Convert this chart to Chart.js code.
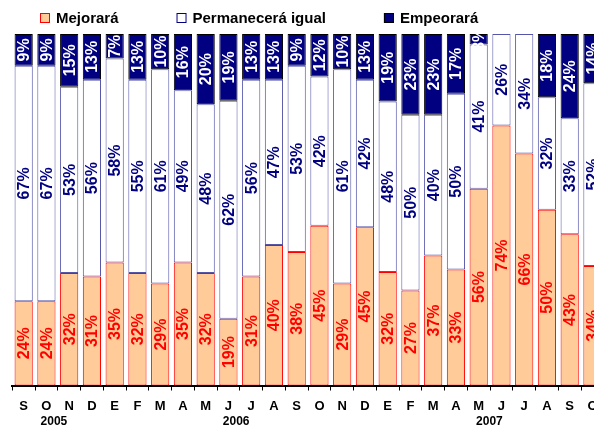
<!DOCTYPE html>
<html>
<head>
<meta charset="utf-8">
<script src="https://cdn.jsdelivr.net/npm/chart.js@4.4.0/dist/chart.umd.min.js"></script>
<style>
  html, body { margin: 0; padding: 0; background: #fff; overflow: hidden; }
  #wrap { width: 594px; height: 425px; overflow: hidden; }
</style>
</head>
<body>
<div id="wrap"><canvas id="expectativas" width="606" height="425"></canvas></div>
<script>
// meses sep 2005 - oct 2007
var meses = ['S','O','N','D','E','F','M','A','M','J','J','A','S','O','N','D','E','F','M','A','M','J','J','A','S','O']
var mejorara  = [24,24,32,31,35,32,29,35,32,19,31,40,38,45,29,45,32,27,37,33,56,74,66,50,43,34]
var igual     = [67,67,53,56,58,55,61,49,48,62,56,47,53,42,61,42,48,50,40,50,41,26,34,32,33,52]
var empeorara = [ 9, 9,15,13, 7,13,10,16,20,19,13,13, 9,12,10,13,19,23,23,17, 3, 0, 0,18,24,14]
var anios = ['2005','2006','2007']
var anioEnMes = [1.33, 9.34, 20.47]

var FONT = "'Liberation Sans', Arial, sans-serif"
Chart.defaults.font.family = FONT

// 100% apilado: cada barra se lleva a 100
function share(arr) {
  return arr.map(function(v, i) {
    return v * 100 / (mejorara[i] + igual[i] + empeorara[i])
  })
}

var etiquetas = {
  id: 'etiquetas',
  afterDatasetsDraw: function(chart) {
    var ctx = chart.ctx
    var area = chart.chartArea
    ctx.save()
    ctx.beginPath()
    ctx.rect(area.left, area.top, area.right - area.left, area.bottom - area.top)
    ctx.clip()
    ctx.font = 'bold 16px ' + FONT
    ctx.textAlign = 'center'
    ctx.textBaseline = 'middle'
    chart.data.datasets.forEach(function(ds, d) {
      var meta = chart.getDatasetMeta(d)
      meta.data.forEach(function(bar, i) {
        var v = ds.raw[i]
        if (!v) return
        var cy = (bar.y + bar.base) / 2
        ctx.save()
        ctx.translate(bar.x + 1, cy)
        ctx.rotate(-Math.PI / 2)
        ctx.fillStyle = ds.labelColor
        ctx.fillText(v + '%', 0, 0)
        ctx.restore()
      })
    })
    ctx.restore()
  },
  afterDraw: function(chart) {
    var ctx = chart.ctx
    ctx.save()
    // leyenda
    var x = 40, base = 23.3
    ctx.font = 'bold 15px ' + FONT
    ctx.textAlign = 'left'
    ctx.textBaseline = 'alphabetic'
    chart.data.datasets.forEach(function(ds) {
      ctx.fillStyle = ds.backgroundColor
      ctx.fillRect(x, 13, 10, 10)
      ctx.strokeStyle = ds.legendBorder
      ctx.lineWidth = 1
      ctx.strokeRect(x + 0.5, 13.5, 9, 9)
      ctx.fillStyle = '#000'
      ctx.fillText(ds.label, x + 16, base)
      x += 16 + ctx.measureText(ds.label).width + 58
    })
    // años
    var xs = chart.scales.x
    ctx.font = 'bold 12px ' + FONT
    ctx.textAlign = 'center'
    ctx.textBaseline = 'middle'
    anios.forEach(function(a, k) {
      ctx.fillText(a, xs.getPixelForValue(anioEnMes[k]), 421.5)
    })
    ctx.restore()
  }
}

var ctx = document.getElementById('expectativas')
var grafico = new Chart(ctx, {
  type: 'bar',
  data: {
    labels: meses,
    datasets: [
      { label: 'Mejorará', data: share(mejorara), raw: mejorara,
        backgroundColor: '#FFCC99', borderColor: '#FF0000', legendBorder: '#FF0000', labelColor: '#FF0000',
        borderWidth: 1, borderSkipped: false },
      { label: 'Permanecerá igual', data: share(igual), raw: igual,
        backgroundColor: '#FFFFFF', borderColor: '#5555AA', legendBorder: '#000080', labelColor: '#000080',
        borderWidth: 1, borderSkipped: false },
      { label: 'Empeorará', data: share(empeorara), raw: empeorara,
        backgroundColor: '#000080', borderColor: '#000000', legendBorder: '#000000', labelColor: '#FFFFFF',
        borderWidth: 1, borderSkipped: false }
    ]
  },
  options: {
    responsive: false,
    animation: false,
    devicePixelRatio: 1,
    barPercentage: 0.8,
    categoryPercentage: 1,
    layout: { padding: { left: 12.3, right: 0, top: 34, bottom: 1.9 } },
    plugins: { legend: { display: false }, tooltip: { enabled: false } },
    scales: {
      x: {
        stacked: true,
        grid: { drawOnChartArea: false, drawTicks: true, tickLength: 5, color: '#000', lineWidth: 1 },
        border: { display: true, color: '#000', width: 2 },
        ticks: { color: '#000', font: { size: 13, weight: 'bold' }, padding: 8.5, autoSkip: false, maxRotation: 0 }
      },
      y: { stacked: true, display: false, min: 0, max: 100 }
    }
  },
  plugins: [etiquetas]
})
</script>
</body>
</html>
